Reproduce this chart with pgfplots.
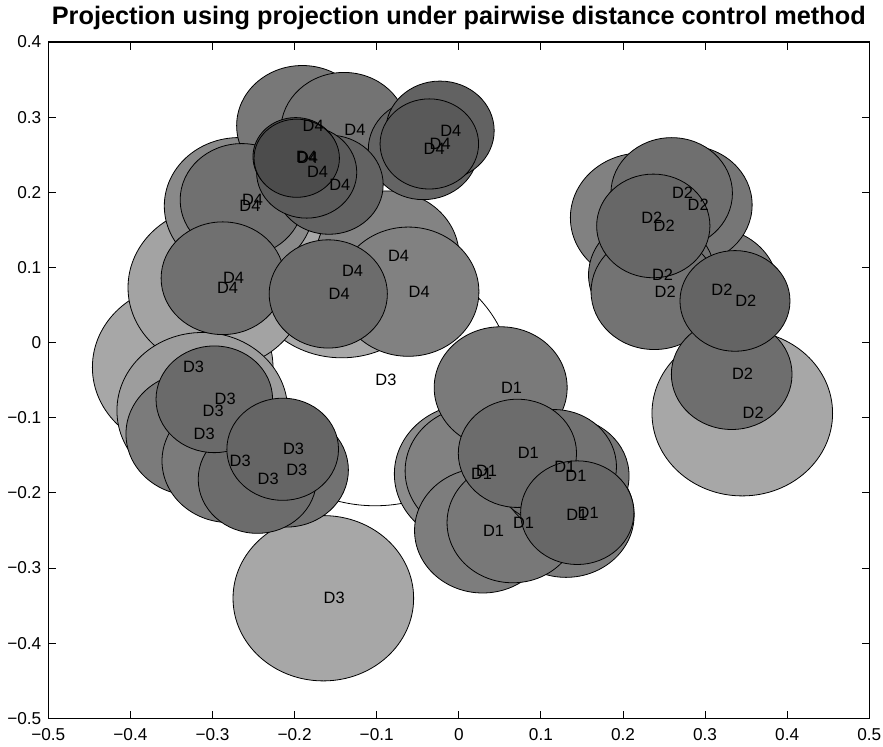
\documentclass[border=0pt]{standalone}
\usepackage{pgfplots}
\pgfplotsset{compat=1.18}
\usepackage{pgfplotstable}
\usepackage{fontspec}
\setmainfont{Liberation Sans}

\pgfdeclareplotmark{nothing}{}

% circles in drawing order (largest first): centre x, centre y, radius r (data units), grey level g, label
\pgfplotstableread{
x y r g lab
-0.1020 -0.0502 0.167 1.000 D3
-0.1426 0.0957 0.116 0.660 D4
0.3453 -0.0941 0.110 0.653 D2
-0.1650 -0.3403 0.110 0.653 D3
-0.3363 -0.0329 0.110 0.653 D3
-0.2949 0.0731 0.108 0.641 D4
-0.3124 -0.0906 0.104 0.617 D3
0.0145 -0.1749 0.093 0.550 D1
-0.2677 0.1818 0.091 0.538 D4
-0.0866 0.1148 0.087 0.513 D4
-0.0615 0.0677 0.086 0.507 D4
0.2219 0.1662 0.086 0.507 D2
0.0206 -0.1709 0.086 0.507 D1
0.1306 -0.2295 0.083 0.489 D1
0.0291 -0.2503 0.083 0.489 D1
0.3072 0.0709 0.082 0.483 D2
-0.3234 -0.1216 0.082 0.483 D3
-0.2795 -0.1576 0.082 0.483 D3
0.0510 -0.0600 0.081 0.477 D1
-0.1906 0.2887 0.080 0.471 D4
0.0657 -0.2397 0.080 0.471 D1
0.2783 0.1831 0.079 0.464 D2
0.1294 -0.1775 0.078 0.458 D1
-0.1398 0.2825 0.077 0.452 D4
0.2350 0.0900 0.077 0.452 D2
0.2381 0.0677 0.077 0.452 D2
0.1160 -0.1652 0.076 0.446 D1
-0.2105 -0.1696 0.076 0.446 D3
-0.2644 0.1898 0.075 0.440 D4
-0.2876 0.0856 0.075 0.440 D4
0.2593 0.1987 0.074 0.434 D2
0.3324 -0.0422 0.0735 0.431 D2
-0.1590 0.0647 0.072 0.422 D4
0.0714 -0.1474 0.072 0.422 D1
-0.2454 -0.1819 0.072 0.422 D3
-0.2978 -0.0755 0.071 0.416 D3
0.2369 0.1552 0.069 0.404 D2
0.1443 -0.2264 0.069 0.404 D1
-0.2145 -0.1420 0.068 0.397 D3
-0.0432 0.2572 0.067 0.391 D4
0.3364 0.0554 0.067 0.391 D2
-0.0229 0.2820 0.066 0.385 D4
-0.1581 0.2101 0.066 0.385 D4
-0.1853 0.2266 0.061 0.355 D4
-0.0359 0.2643 0.060 0.349 D4
-0.1987 0.2474 0.052 0.300 D4
-0.1974 0.2453 0.052 0.300 D4
}\circles

\begin{document}
\begin{tikzpicture}
\begin{axis}[
  name=ax,
  x=410.5pt, y=375.7pt,
  xmin=-0.5, xmax=0.5, ymin=-0.5, ymax=0.4,
  axis line style={line width=0.55pt, black},
  tick style={line width=0.45pt, black},
  major tick length=3.85pt,
  tick align=inside,
  tick pos=both,
  xticklabel pos=bottom, yticklabel pos=left,
  xtick={-0.5,-0.4,-0.3,-0.2,-0.1,0,0.1,0.2,0.3,0.4,0.5},
  xticklabels={−0.5,−0.4,−0.3,−0.2,−0.1,0,0.1,0.2,0.3,0.4,0.5},
  ytick={-0.5,-0.4,-0.3,-0.2,-0.1,0,0.1,0.2,0.3,0.4},
  yticklabels={−0.5,−0.4,−0.3,−0.2,−0.1,0,0.1,0.2,0.3,0.4},
  ticklabel style={font=\fontsize{8.6}{10}\selectfont},
  xticklabel style={anchor=base, yshift=-11.15pt},
  title={Projection using projection under pairwise distance control method},
  title style={font=\bfseries\fontsize{12.65}{15}\selectfont, at={(0.5,1)}, anchor=base, yshift=2.5pt},
]
\addplot[
  scatter, only marks, mark=nothing,
  visualization depends on={\thisrow{r}\as\crad},
  visualization depends on={\thisrow{g}\as\cgrey},
  scatter/@pre marker code/.code={%
    \pgfmathsetmacro{\cgp}{100*\cgrey}%
    \path[draw=black, line width=0.4pt, fill=white!\cgp!black] (0pt,0pt) ellipse [x radius={\crad*410.5pt}, y radius={\crad*375.7pt}];
  },
  scatter/@post marker code/.code={},
] table[x=x, y=y] {\circles};
\addplot[
  draw=none, mark=none,
  nodes near coords, point meta=explicit symbolic,
  nodes near coords style={anchor=west, inner sep=0pt, font=\fontsize{8.2}{9.8}\selectfont, text=black},
] table[x=x, y=y, meta=lab] {\circles};
\end{axis}
\pgfresetboundingbox
\path[use as bounding box] ([xshift=-24.15pt,yshift=-14.35pt]ax.south west) rectangle ([xshift=6.85pt,yshift=21pt]ax.north east);
\end{tikzpicture}
\end{document}
